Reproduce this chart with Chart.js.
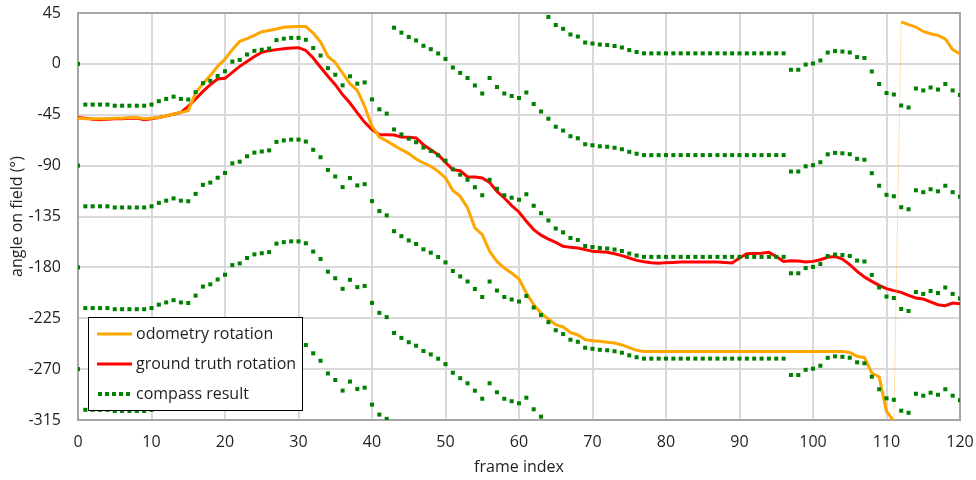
<!DOCTYPE html>
<html>
<head>
<meta charset="utf-8">
<script src="https://cdn.jsdelivr.net/npm/chart.js@4/dist/chart.umd.min.js"></script>
<style>
  html, body { margin: 0; padding: 0; background: #ffffff; }
  #wrap { width: 976px; height: 480px; }
</style>
</head>
<body>
<div id="wrap"><canvas id="chart" width="976" height="480"></canvas></div>
<script>
// Frame indices of the recorded run
const frameIndex = Array.from({ length: 121 }, (_, i) => i);

// Heading integrated from wheel odometry (degrees)
const odometryRotation = [
  -48, -48.5, -48.5, -48.5, -48.5, -48, -48, -47.5, -47.5, -48.5,
  -48, -47.5, -46, -44.3, -42.9, -41.4, -25.8, -17.5, -10.4, -2.2,
  4.3, 12.6, 19.9, 22.3, 25.2, 28.5, 29.6, 30.8, 32.3, 32.9,
  33, 33, 27.3, 19.4, 6.6, 1.3, -8.1, -17.5, -23.4, -37.6,
  -55.3, -64.7, -68.2, -72.1, -75.9, -79.4, -84.1, -87.7, -90.6, -95.1,
  -100.9, -111.9, -117.2, -127.5, -145, -151, -165.8, -174.7, -180.6, -185,
  -190.3, -202.6, -213, -220.4, -225.7, -230.7, -232.7, -237.5, -239.8, -243.9,
  -244.8, -245.4, -246.3, -246.9, -248.6, -251, -253.4, -254.3, -254.3, -254.3,
  -254.3, -254.3, -254.3, -254.3, -254.3, -254.3, -254.3, -254.3, -254.3, -254.3,
  -254.3, -254.3, -254.3, -254.3, -254.3, -254.3, -254.3, -254.3, -254.3, -254.3,
  -254.3, -254.3, -254.3, -254.3, -254.3, -255.2, -258.7, -259.9, -273.4, -277,
  -307.4, -316, 37.1, 34.7, 32.6, 28.7, 26.7, 25.2, 22, 12.6,
  8.7
];

// Reference heading from the tracking system (degrees)
const groundTruthRotation = [
  -47.5, -48, -49, -49.5, -49, -48.5, -48.5, -48, -48, -49.5,
  -48.5, -47.5, -46, -44.5, -42.9, -37.6, -31.1, -24.3, -18.4, -13.4,
  -12.8, -7.5, -2.2, 2.2, 6.6, 10.2, 11.7, 12.6, 13.4, 14.1,
  14.3, 11.9, 5.2, -3, -11, -18.4, -27.2, -34.6, -43.4, -51.7,
  -58.2, -62.6, -62.6, -62.9, -64.7, -65, -65.5, -71.5, -75.9, -80.3,
  -87.1, -93.6, -94.5, -100, -100, -100.9, -104.8, -112.8, -118.6, -125.4,
  -131, -139.3, -146.6, -151.5, -155, -157.9, -161.4, -162.3, -162.8, -164.3,
  -165.8, -166.1, -166.7, -167.9, -169.6, -171.7, -173.8, -175, -176, -176.3,
  -175.8, -175.6, -175.3, -175.2, -175.2, -175.2, -175.2, -175.3, -175.6, -176.1,
  -171.7, -167.9, -167.7, -167.4, -166.7, -170.3, -174.7, -174.1, -174.4, -175.2,
  -174.7, -173.2, -171.1, -170.3, -172.6, -177.6, -183.5, -188.5, -192.4, -195.9,
  -198.8, -200.6, -202.1, -204.8, -207.1, -208, -210.6, -213, -213.9, -211.5,
  -212.1
];

// Compass heading (degrees); the field markings only fix it modulo 90 degrees
const compassResult = [
  0, -36, -36, -36, -36, -37, -37, -37, -37, -37,
  -36, -33, -31, -29, -31, -31.5, -25, -17, -15, -10.7,
  -6.5, 2, 3.5, 8.3, 11.5, 12.5, 13.5, 21, 22.3, 23,
  23, 21.3, 14, 7.4, -3.8, -9.6, -19, -11, -17.5, -16.4,
  -31.4, -40.2, -44, -58, -62.4, -66.2, -69.3, -74, -77, -80.8,
  -85.6, -93.2, -98, -102.5, -109.1, -116.2, -102.5, -110.5, -116.2, -118.4,
  -120.2, -115.3, -125.5, -132.1, -138.5, -145.6, -149, -154, -155.8, -161.1,
  -162, -162.9, -163.3, -164.2, -165.5, -167.8, -169.5, -170.7, -170.7, -170.7,
  -170.7, -170.7, -170.7, -170.7, -170.7, -170.7, -170.7, -170.7, -170.7, -170.7,
  -170.7, -170.7, -170.7, -170.7, -170.7, -170.7, -170.7, -185.2, -185.2, -180.6,
  -179.6, -177, -170, -168.7, -169.1, -169.9, -174, -174.8, -186.7, -197.8,
  -205.8, -207.1, -216.8, -218.6, -201.8, -203.5, -200.9, -202.7, -197.8, -203.5,
  -207.5
];

// Ambiguity branches of the compass reading
const compassBranches = [-270, -180, -90, 0, 90, 180];

// Axis ticks
const yTicks = [45, 0, -45, -90, -135, -180, -225, -270, -315];
const xTicks = [0, 10, 20, 30, 40, 50, 60, 70, 80, 90, 100, 110, 120];

const Y_MIN = Math.min(...yTicks), Y_MAX = Math.max(...yTicks);
const X_MIN = Math.min(...xTicks), X_MAX = Math.max(...xTicks);

const COL_ODO = '#ffa500';
const COL_GT = '#ff0000';
const COL_COMPASS = '#008000';
const TEXT = '#1f1f1f';
const FONT = "'Open Sans', 'Noto Sans', sans-serif";

const compassSets = compassBranches.map((off, k) => ({
  label: 'compass result',
  legendKey: k === 0 ? 'compass' : null,
  data: frameIndex
    .map(i => ({ x: i, y: compassResult[i] + off }))
    .filter(p => p.y >= Y_MIN && p.y <= Y_MAX),
  showLine: false,
  pointStyle: 'rect',
  pointRadius: 2.85,
  pointHoverRadius: 2.85,
  pointBorderWidth: 0,
  pointBackgroundColor: COL_COMPASS,
  borderColor: COL_COMPASS,
  order: 0
}));

const datasets = [
  {
    label: 'odometry rotation',
    legendKey: 'odo',
    data: odometryRotation,
    borderColor: COL_ODO,
    borderWidth: 3,
    pointRadius: 0,
    tension: 0,
    order: 1,
    segment: {
      // wrap-around from -315 back to +45 is drawn as a faint hairline
      borderWidth: ctx => Math.abs(ctx.p1.parsed.y - ctx.p0.parsed.y) > 180 ? 1 : undefined,
      borderColor: ctx => Math.abs(ctx.p1.parsed.y - ctx.p0.parsed.y) > 180 ? 'rgba(255,190,90,0.45)' : undefined
    }
  },
  {
    label: 'ground truth rotation',
    legendKey: 'gt',
    data: groundTruthRotation,
    borderColor: COL_GT,
    borderWidth: 3,
    pointRadius: 0,
    tension: 0,
    order: 2
  },
  ...compassSets
];

// Grey frame around the plot area
const plotFrame = {
  id: 'plotFrame',
  beforeDatasetsDraw(chart) {
    const { ctx, chartArea: a } = chart;
    ctx.save();
    ctx.strokeStyle = '#a5a5a5';
    ctx.lineWidth = 2;
    ctx.strokeRect(a.left, a.top, a.right - a.left, a.bottom - a.top);
    ctx.restore();
  }
};

// Boxed legend in the lower-left corner of the plot
const boxedLegend = {
  id: 'boxedLegend',
  afterDraw(chart) {
    const { ctx, chartArea: a } = chart;
    const entries = chart.data.datasets.filter(d => d.legendKey);
    const left = a.left + 10, bottom = a.bottom - 10;
    const rowH = 30, w = 214, h = 93;
    const top = bottom - h;
    ctx.save();
    ctx.fillStyle = '#ffffff';
    ctx.fillRect(left, top, w, h);
    ctx.strokeStyle = '#000000';
    ctx.lineWidth = 1;
    ctx.strokeRect(left + 0.5, top + 0.5, w, h);
    ctx.font = '16px ' + FONT;
    ctx.textBaseline = 'middle';
    entries.forEach((d, i) => {
      const cy = top + 17 + i * rowH;
      const sx = left + 9, sw = 35;
      if (d.legendKey === 'compass') {
        ctx.fillStyle = d.pointBackgroundColor;
        for (let k = 0; k < 5; k++) ctx.fillRect(sx + 1 + k * 7, cy - 2, 4, 4);
      } else {
        ctx.strokeStyle = d.borderColor;
        ctx.lineWidth = 3;
        ctx.beginPath();
        ctx.moveTo(sx, cy);
        ctx.lineTo(sx + sw, cy);
        ctx.stroke();
      }
      ctx.fillStyle = TEXT;
      ctx.fillText(d.label, sx + sw + 4, cy);
    });
    ctx.restore();
  }
};

Chart.defaults.font.family = FONT;
Chart.defaults.color = TEXT;

new Chart(document.getElementById('chart'), {
  type: 'line',
  data: { labels: frameIndex, datasets },
  options: {
    responsive: false,
    devicePixelRatio: 1,
    animation: false,
    events: [],
    layout: { padding: { top: 13, right: 16, left: 0, bottom: 0 } },
    plugins: { legend: { display: false }, tooltip: { enabled: false } },
    scales: {
      x: {
        type: 'linear',
        min: X_MIN, max: X_MAX,
        afterFit: s => { s.height = 60; s.paddingLeft = 0; s.paddingRight = 0; },
        afterBuildTicks: s => { s.ticks = xTicks.map(v => ({ value: v })); },
        grid: { color: '#d9d9d9', lineWidth: 2, drawTicks: false },
        border: { display: false },
        ticks: { padding: 13, font: { size: 16 }, maxRotation: 0 },
        title: { display: true, text: 'frame index', font: { size: 16 }, padding: { top: 3, bottom: 3 } }
      },
      y: {
        type: 'linear',
        min: Y_MIN, max: Y_MAX,
        afterFit: s => { s.width = 78; s.paddingTop = 0; s.paddingBottom = 0; },
        afterBuildTicks: s => { s.ticks = yTicks.map(v => ({ value: v })); },
        grid: { color: '#d9d9d9', lineWidth: 2, drawTicks: false },
        border: { display: false },
        ticks: { padding: 17, font: { size: 16 } },
        title: { display: true, text: 'angle on field (°)', font: { size: 16 }, padding: { top: 8, bottom: 8 } }
      }
    }
  },
  plugins: [plotFrame, boxedLegend]
});
</script>
</body>
</html>
